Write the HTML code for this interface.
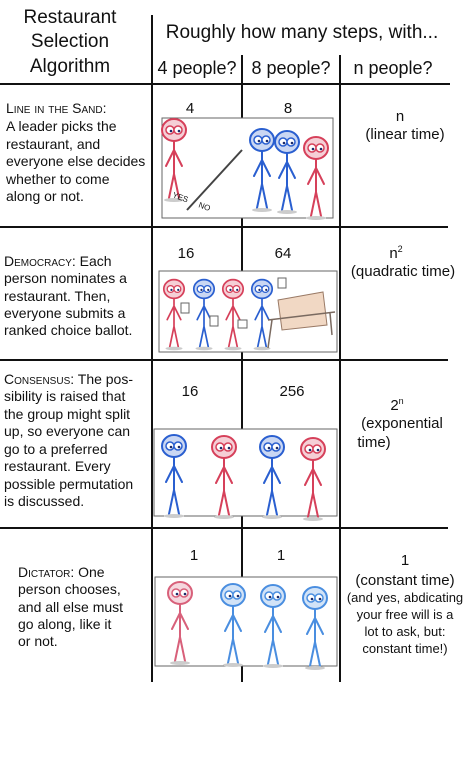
<!DOCTYPE html>
<html><head><meta charset="utf-8"><style>
html,body{margin:0;padding:0;background:#fff;width:470px;height:783px;overflow:hidden}
svg{display:block}
text{font-family:"Liberation Sans",sans-serif;fill:#111}
.sc{font-variant:small-caps}
</style></head><body>
<svg width="470" height="783" viewBox="0 0 470 783" xmlns="http://www.w3.org/2000/svg">
<defs>
<g id="fig" fill="none" stroke="currentColor" stroke-width="2" stroke-linecap="round">
<ellipse cx="0" cy="0" rx="12" ry="11" fill="currentColor" fill-opacity="0.25"/>
<circle cx="-4" cy="0" r="4" fill="#fff" stroke-width="1.5"/>
<circle cx="4" cy="0" r="4" fill="#fff" stroke-width="1.5"/>
<circle cx="-3" cy="1" r="1.3" fill="#1a2a6a" stroke="none"/>
<circle cx="5" cy="1" r="1.3" fill="#1a2a6a" stroke="none"/>
<path d="M0 11 L0 44 M0 44 L-5 68 M0 44 L5 68 M0 20 L-8 36 M0 20 L8 36"/>
<ellipse cx="0" cy="70" rx="10" ry="2" fill="#ccc" stroke="none"/>
</g>
</defs>
<g stroke="#111" stroke-width="2" fill="none">
<line x1="0" y1="84" x2="450" y2="84"/>
<line x1="0" y1="227" x2="448" y2="227"/>
<line x1="0" y1="360" x2="448" y2="360"/>
<line x1="0" y1="528" x2="448" y2="528"/>
<line x1="152" y1="15" x2="152" y2="682"/>
<line x1="242" y1="55" x2="242" y2="682"/>
<line x1="340" y1="55" x2="340" y2="682"/>
</g>
<g font-size="19" text-anchor="middle">
<text x="70" y="23">Restaurant</text>
<text x="70" y="47">Selection</text>
<text x="70" y="72">Algorithm</text>
<text x="302" y="38">Roughly how many steps, with...</text>
</g>
<g font-size="18" text-anchor="middle">
<text x="197" y="74">4 people?</text>
<text x="291" y="74">8 people?</text>
<text x="393" y="74">n people?</text>
</g>
<g font-size="14">
<text x="6" y="113"><tspan class="sc">Line in the Sand:</tspan></text>
<text x="6" y="131">A leader picks the</text>
<text x="6" y="149">restaurant, and</text>
<text x="6" y="166">everyone else decides</text>
<text x="6" y="184">whether to come</text>
<text x="6" y="201">along or not.</text>
<text x="4" y="266"><tspan class="sc">Democracy:</tspan> Each</text>
<text x="4" y="283">person nominates a</text>
<text x="4" y="301">restaurant. Then,</text>
<text x="4" y="318">everyone submits a</text>
<text x="4" y="335">ranked choice ballot.</text>
<text x="4" y="384"><tspan class="sc">Consensus:</tspan> The pos-</text>
<text x="4" y="401">sibility is raised that</text>
<text x="4" y="419">the group might split</text>
<text x="4" y="436">up, so everyone can</text>
<text x="4" y="454">go to a preferred</text>
<text x="4" y="471">restaurant. Every</text>
<text x="4" y="489">possible permutation</text>
<text x="4" y="506">is discussed.</text>
<text x="18" y="577"><tspan class="sc">Dictator:</tspan> One</text>
<text x="18" y="594">person chooses,</text>
<text x="18" y="612">and all else must</text>
<text x="18" y="629">go along, like it</text>
<text x="18" y="646">or not.</text>
</g>
<g font-size="15" text-anchor="middle">
<text x="190" y="113">4</text><text x="288" y="113">8</text>
<text x="400" y="121">n</text><text x="405" y="139">(linear time)</text>
<text x="186" y="258">16</text><text x="283" y="258">64</text>
<text x="396" y="258">n<tspan font-size="9" dy="-6">2</tspan></text><text x="403" y="276">(quadratic time)</text>
<text x="190" y="396">16</text><text x="292" y="396">256</text>
<text x="397" y="410">2<tspan font-size="9" dy="-6">n</tspan></text>
<text x="402" y="428">(exponential</text><text x="374" y="447">time)</text>
<text x="194" y="560">1</text><text x="281" y="560">1</text>
<text x="405" y="565">1</text><text x="405" y="585">(constant time)</text>
</g>
<g font-size="13" text-anchor="middle">
<text x="405" y="602">(and yes, abdicating</text>
<text x="405" y="619">your free will is a</text>
<text x="405" y="636">lot to ask, but:</text>
<text x="405" y="653">constant time!)</text>
</g>
<rect x="162" y="118" width="171" height="100" fill="#fff" stroke="#666" stroke-width="1"/>
<use href="#fig" x="174" y="130" color="#d6405a"/>
<use href="#fig" x="262" y="140" color="#2a5fd0"/>
<use href="#fig" x="287" y="142" color="#2a5fd0"/>
<use href="#fig" x="316" y="148" color="#d6405a"/>
<line x1="187" y1="210" x2="242" y2="150" stroke="#444" stroke-width="2"/>
<text x="172" y="197" font-size="8" fill="#666" transform="rotate(20 172 197)">YES</text>
<text x="198" y="207" font-size="8" fill="#666" transform="rotate(20 198 207)">NO</text>
<rect x="159" y="271" width="178" height="81" fill="#fff" stroke="#666" stroke-width="1"/>
<use href="#fig" x="174" y="289" color="#d6405a" transform="translate(174 289) scale(0.85) translate(-174 -289)"/>
<use href="#fig" x="204" y="289" color="#2a5fd0" transform="translate(204 289) scale(0.85) translate(-204 -289)"/>
<use href="#fig" x="233" y="289" color="#d6405a" transform="translate(233 289) scale(0.85) translate(-233 -289)"/>
<use href="#fig" x="262" y="289" color="#2a5fd0" transform="translate(262 289) scale(0.85) translate(-262 -289)"/>
<rect x="181" y="303" width="8" height="10" fill="#fff" stroke="#666"/>
<rect x="210" y="316" width="8" height="10" fill="#fff" stroke="#666"/>
<rect x="238" y="320" width="9" height="8" fill="#fff" stroke="#666"/>
<rect x="278" y="278" width="8" height="10" fill="#fff" stroke="#666"/>
<polygon points="278,300 323,292 327,325 282,330" fill="#f1d8c4" stroke="#9a7a66"/>
<path d="M268 320 L335 312 M272 320 L268 348 M330 313 L332 335" stroke="#7a6a60" stroke-width="1.5" fill="none"/>
<rect x="154" y="429" width="183" height="87" fill="#fff" stroke="#666" stroke-width="1"/>
<use href="#fig" x="174" y="446" color="#2a5fd0"/>
<use href="#fig" x="224" y="447" color="#d6405a"/>
<use href="#fig" x="272" y="447" color="#2a5fd0"/>
<use href="#fig" x="313" y="449" color="#d6405a"/>
<rect x="155" y="577" width="182" height="89" fill="#fff" stroke="#666" stroke-width="1"/>
<use href="#fig" x="180" y="593" color="#d8607a"/>
<use href="#fig" x="233" y="595" color="#4a8ee0"/>
<use href="#fig" x="273" y="596" color="#4a8ee0"/>
<use href="#fig" x="315" y="598" color="#4a8ee0"/>
</svg>
</body></html>
